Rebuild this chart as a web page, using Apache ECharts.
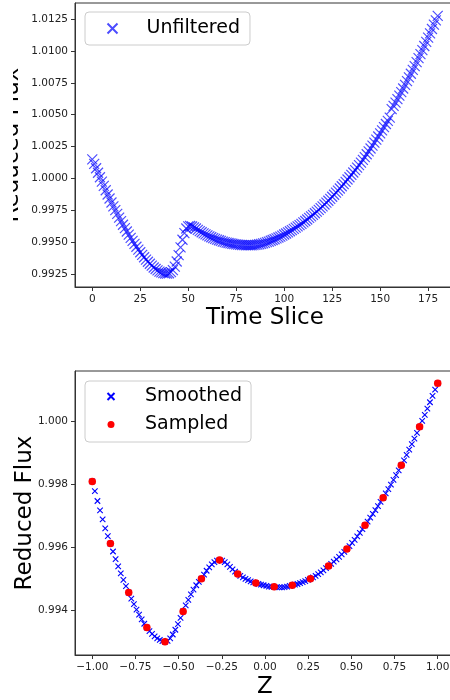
<!DOCTYPE html>
<html><head><meta charset="utf-8">
<script src="https://cdn.jsdelivr.net/npm/echarts@6/dist/echarts.min.js"></script>
<style>html,body{margin:0;padding:0;background:#fff}#c{width:450px;height:700px}</style>
</head><body><div id="c"></div>
<script>
// Top panel: reduced flux per time slice (index = time slice 0..180)
const unfiltered = [
1.00150,1.00115,1.00080,1.00045,1.00010,0.99976,0.99942,0.99908,0.99875,0.99843,
0.99812,0.99782,0.99752,0.99723,0.99694,0.99666,0.99638,0.99611,0.99585,0.99560,
0.99535,0.99511,0.99488,0.99465,0.99443,0.99422,0.99402,0.99383,0.99365,0.99348,
0.99332,0.99317,0.99303,0.99291,0.99280,0.99271,0.99264,0.99259,0.99256,0.99255,
0.99258,0.99266,0.99282,0.99310,0.99350,0.99400,0.99460,0.99520,0.99572,0.99608,
0.99625,0.99628,0.99624,0.99617,0.99608,0.99598,0.99588,0.99579,0.99570,0.99562,
0.99554,0.99547,0.99540,0.99533,0.99527,0.99521,0.99516,0.99511,0.99506,0.99502,
0.99498,0.99495,0.99492,0.99489,0.99486,0.99484,0.99482,0.99480,0.99479,0.99478,
0.99477,0.99477,0.99477,0.99477,0.99478,0.99480,0.99482,0.99485,0.99488,0.99492,
0.99496,0.99501,0.99506,0.99512,0.99518,0.99524,0.99531,0.99538,0.99545,0.99553,
0.99561,0.99569,0.99578,0.99587,0.99596,0.99605,0.99615,0.99625,0.99635,0.99645,
0.99656,0.99667,0.99679,0.99691,0.99703,0.99715,0.99728,0.99741,0.99754,0.99768,
0.99782,0.99796,0.99811,0.99826,0.99841,0.99857,0.99873,0.99889,0.99905,0.99922,
0.99939,0.99956,0.99974,0.99992,1.00010,1.00028,1.00047,1.00066,1.00085,1.00105,
1.00125,1.00146,1.00168,1.00190,1.00212,1.00235,1.00258,1.00281,1.00305,1.00329,
1.00353,1.00377,1.00402,1.00427,1.00452,1.00477,1.00543,1.00569,1.00595,1.00622,
1.00649,1.00677,1.00705,1.00734,1.00763,1.00792,1.00821,1.00851,1.00881,1.00912,
1.00943,1.00974,1.01006,1.01038,1.01071,1.01104,1.01137,1.01171,1.01205,1.01239,
1.01274
];
// Bottom panel: smoothed curve (Z grid and flux)
const smoothZ = [
-1.000,-0.985,-0.970,-0.955,-0.940,-0.925,-0.910,-0.895,-0.880,-0.865,
-0.850,-0.835,-0.820,-0.805,-0.789,-0.774,-0.759,-0.744,-0.729,-0.714,
-0.699,-0.684,-0.669,-0.654,-0.639,-0.624,-0.609,-0.594,-0.579,-0.564,
-0.549,-0.534,-0.519,-0.504,-0.489,-0.474,-0.459,-0.444,-0.429,-0.414,
-0.398,-0.383,-0.368,-0.353,-0.338,-0.323,-0.308,-0.293,-0.278,-0.263,
-0.248,-0.233,-0.218,-0.203,-0.188,-0.173,-0.158,-0.143,-0.128,-0.113,
-0.098,-0.083,-0.068,-0.053,-0.038,-0.023,-0.008,0.008,0.023,0.038,
0.053,0.068,0.083,0.098,0.113,0.128,0.143,0.158,0.173,0.188,
0.203,0.218,0.233,0.248,0.263,0.278,0.293,0.308,0.323,0.338,
0.353,0.368,0.383,0.398,0.414,0.429,0.444,0.459,0.474,0.489,
0.504,0.519,0.534,0.549,0.564,0.579,0.594,0.609,0.624,0.639,
0.654,0.669,0.684,0.699,0.714,0.729,0.744,0.759,0.774,0.789,
0.805,0.820,0.835,0.850,0.865,0.880,0.895,0.910,0.925,0.940,
0.955,0.970,0.985,1.000
];
const smoothFlux = [
0.99808,0.99777,0.99746,0.99716,0.99688,0.99659,0.99635,0.99611,0.99586,0.99562,
0.99539,0.99517,0.99496,0.99476,0.99456,0.99437,0.99419,0.99402,0.99386,0.99371,
0.99357,0.99345,0.99334,0.99325,0.99317,0.99311,0.99306,0.99302,0.99300,0.99303,
0.99311,0.99323,0.99338,0.99356,0.99376,0.99396,0.99415,0.99433,0.99450,0.99465,
0.99479,0.99490,0.99500,0.99513,0.99525,0.99536,0.99545,0.99552,0.99557,0.99559,
0.99557,0.99552,0.99545,0.99537,0.99529,0.99522,0.99515,0.99509,0.99504,0.99499,
0.99495,0.99491,0.99488,0.99486,0.99483,0.99481,0.99479,0.99477,0.99475,0.99474,
0.99474,0.99473,0.99472,0.99472,0.99473,0.99475,0.99477,0.99479,0.99481,0.99483,
0.99486,0.99489,0.99492,0.99496,0.99500,0.99504,0.99509,0.99514,0.99520,0.99526,
0.99533,0.99540,0.99547,0.99554,0.99561,0.99569,0.99577,0.99585,0.99594,0.99603,
0.99613,0.99623,0.99634,0.99645,0.99657,0.99669,0.99681,0.99693,0.99705,0.99717,
0.99730,0.99743,0.99756,0.99770,0.99784,0.99798,0.99813,0.99828,0.99843,0.99859,
0.99875,0.99892,0.99909,0.99926,0.99944,0.99962,0.99981,1.00000,1.00019,1.00039,
1.00059,1.00079,1.00099,1.00119
];
// Sampled points
const sampleZ = [-1.000,-0.895,-0.789,-0.684,-0.579,-0.474,-0.368,-0.263,-0.158,-0.053,
 0.053,0.158,0.263,0.368,0.474,0.579,0.684,0.789,0.895,1.000];
const sampleFlux = [0.99808,0.99611,0.99456,0.99345,0.99300,0.99396,0.99500,0.99559,0.99515,0.99486,
 0.99474,0.99479,0.99500,0.99540,0.99594,0.99669,0.99756,0.99859,0.99981,1.00119];
// Tick labels
const timeTicks = [0,25,50,75,100,125,150,175];
const topFluxTicks = [0.9925,0.9950,0.9975,1.0000,1.0025,1.0050,1.0075,1.0100,1.0125];
const zTicks = [-1.00,-0.75,-0.50,-0.25,0.00,0.25,0.50,0.75,1.00];
const bottomFluxTicks = [0.994,0.996,0.998,1.000];

const FONT = 'DejaVu Sans';
const crossPath = 'path://M0,0L10,10M0,10L10,0';
const minus = s => s.replace('-', '\u2212');
function axisCommon(ticks, fmt) {
  return {
    nameMoveOverlap: false,
    axisLine: {show: true, onZero: false, lineStyle: {color: '#333', width: 1}},
    axisTick: {show: true, inside: false, length: 4, customValues: ticks, lineStyle: {color: '#333', width: 1}},
    axisLabel: {customValues: ticks, formatter: v => minus(fmt(v)), fontFamily: FONT, fontSize: 10.5, color: '#222', margin: 7},
    splitLine: {show: false}
  };
}
const chart = echarts.init(document.getElementById('c'), null, {renderer: 'canvas'});
chart.setOption({
  animation: false,
  backgroundColor: '#fff',
  grid: [
    {left: 75, top: 3, width: 380, height: 284, show: true, borderColor: '#333', borderWidth: 1, containLabel: false, outerBoundsMode: 'none'},
    {left: 75, top: 371, width: 380, height: 284, show: true, borderColor: '#333', borderWidth: 1, containLabel: false, outerBoundsMode: 'none'}
  ],
  // the upper panel is cropped at its left edge in the original picture
  graphic: [{type: 'rect', left: 0, top: 0, z: 100, shape: {width: 13, height: 340}, style: {fill: '#fff'}}],
  xAxis: [
    Object.assign({type: 'value', gridIndex: 0, min: -9, max: 189,
      name: 'Time Slice', nameLocation: 'middle', nameGap: 20,
      nameTextStyle: {fontFamily: FONT, fontSize: 23, color: '#000'}},
      axisCommon(timeTicks, v => String(v))),
    Object.assign({type: 'value', gridIndex: 1, min: -1.1, max: 1.1,
      name: 'Z', nameLocation: 'middle', nameGap: 21,
      nameTextStyle: {fontFamily: FONT, fontSize: 23, color: '#000'}},
      axisCommon(zTicks, v => v.toFixed(2)))
  ],
  yAxis: [
    Object.assign({type: 'value', gridIndex: 0, min: 0.9915, max: 1.01375,
      name: 'Reduced Flux', nameLocation: 'middle', nameGap: 51, nameRotate: 90,
      nameTextStyle: {fontFamily: FONT, fontSize: 23, color: '#000'}},
      axisCommon(topFluxTicks, v => v.toFixed(4))),
    Object.assign({type: 'value', gridIndex: 1, min: 0.99258, max: 1.00158,
      name: 'Reduced Flux', nameLocation: 'middle', nameGap: 38, nameRotate: 90,
      nameTextStyle: {fontFamily: FONT, fontSize: 23, color: '#000'}},
      axisCommon(bottomFluxTicks, v => v.toFixed(3)))
  ],
  legend: [
    {data: ['Unfiltered'], left: 85, top: 12, orient: 'vertical',
     itemWidth: 30, itemHeight: 10, padding: [6, 10, 6, 20],
     backgroundColor: '#fff', borderColor: '#ccc', borderWidth: 1, borderRadius: 4,
     textStyle: {fontFamily: FONT, fontSize: 19, color: '#000', lineHeight: 21, padding: [0, 0, 0, 14]}},
    {data: ['Smoothed', 'Sampled'], left: 85, top: 381, orient: 'vertical', itemGap: 7,
     itemWidth: 30, itemHeight: 7, padding: [5, 9, 7, 20],
     backgroundColor: '#fff', borderColor: '#ccc', borderWidth: 1, borderRadius: 4,
     textStyle: {fontFamily: FONT, fontSize: 19, color: '#000', lineHeight: 21, padding: [0, 0, 0, 14]}}
  ],
  series: [
    {name: 'Unfiltered', type: 'scatter', xAxisIndex: 0, yAxisIndex: 0,
     symbol: crossPath, symbolSize: 10,
     itemStyle: {color: 'none', borderColor: 'rgba(0,0,255,0.7)', borderWidth: 1.2, opacity: 1},
     data: unfiltered.map((v, i) => [i, v])},
    {name: 'Smoothed', type: 'scatter', xAxisIndex: 1, yAxisIndex: 1,
     symbol: crossPath, symbolSize: 5.5,
     itemStyle: {color: 'none', borderColor: '#0000ff', borderWidth: 1.1, opacity: 1},
     data: smoothZ.map((z, i) => [z, smoothFlux[i]])},
    {name: 'Sampled', type: 'scatter', xAxisIndex: 1, yAxisIndex: 1,
     symbol: 'circle', symbolSize: 7.5, z: 3,
     itemStyle: {color: '#ff0000', borderWidth: 0, opacity: 1},
     data: sampleZ.map((z, i) => [z, sampleFlux[i]])}
  ]
});
</script></body></html>
